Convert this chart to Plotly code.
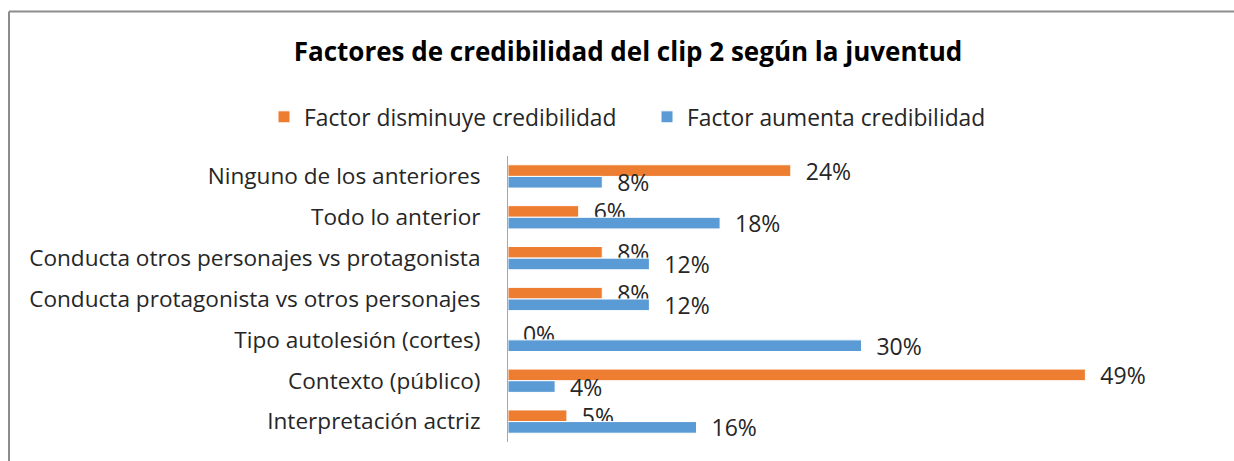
import plotly.graph_objects as go

categories = [
    "Ninguno de los anteriores",
    "Todo lo anterior",
    "Conducta otros personajes vs protagonista",
    "Conducta protagonista vs otros personajes",
    "Tipo autolesión (cortes)",
    "Contexto (público)",
    "Interpretación actriz",
]
disminuye = [24, 6, 8, 8, 0, 49, 5]
aumenta = [8, 18, 12, 12, 30, 4, 16]

series_names = ["Factor disminuye credibilidad", "Factor aumenta credibilidad"]
colors = ["#ED7D31", "#5B9BD5"]
title_text = "Factores de credibilidad del clip 2 según la juventud"

FONT = "Open Sans"
W, H = 1234, 461
ML, MR, MT, MB = 508, 19, 156, 19
PW, PH = W - ML - MR, H - MT - MB

def px_x(x):
    return (x - ML) / PW

def px_y(y):
    return 1 + (MT - y) / PH

fig = go.Figure()
for name, vals, col in zip(series_names, [disminuye, aumenta], colors):
    fig.add_trace(go.Bar(
        y=categories, x=vals, name=name, orientation="h",
        marker=dict(color=col, line=dict(color="white", width=1)),
        text=[f"{v}%" for v in vals],
        texttemplate="  %{text}",
        textposition="outside",
        constraintext="none",
        cliponaxis=False,
        textfont=dict(family=FONT, size=23, color="#262626"),
    ))

fig.update_layout(
    width=W, height=H,
    margin=dict(l=ML, r=MR, t=MT, b=MB),
    paper_bgcolor="white", plot_bgcolor="white",
    barmode="group", bargap=0.43, bargroupgap=0,
    font=dict(family=FONT, color="#262626"),
    title=dict(text="<b>" + title_text + "</b>", x=628 / W, xref="container",
               y=1 - 52 / H, yref="container", xanchor="center", yanchor="middle",
               font=dict(family=FONT, size=26, color="#000000")),
    legend=dict(orientation="h", x=px_x(264), y=px_y(117), xanchor="left",
                yanchor="middle", font=dict(family=FONT, size=22.8, color="#262626"),
                entrywidth=338, entrywidthmode="pixels", bgcolor="rgba(0,0,0,0)"),
    xaxis=dict(range=[0, 60], visible=False, showgrid=False, zeroline=False),
    yaxis=dict(type="category", autorange="reversed", showline=True,
               linecolor="#a6a6a6", linewidth=1, ticks="", showgrid=False,
               ticklabelstandoff=22,
               tickfont=dict(family=FONT, size=22.6, color="#262626")),
    showlegend=True,
)

# outer frame of the chart image
fx, fy = px_x(9), px_y(11.5)
fig.add_shape(type="line", xref="paper", yref="paper", x0=fx, x1=fx, y0=-0.2, y1=fy,
              line=dict(color="#8c8c8c", width=2))
fig.add_shape(type="line", xref="paper", yref="paper", x0=fx, x1=1.2, y0=fy, y1=fy,
              line=dict(color="#8c8c8c", width=2))

fig.write_html("out.html", config={"displayModeBar": False},
               post_script="document.body.style.margin='0';")
